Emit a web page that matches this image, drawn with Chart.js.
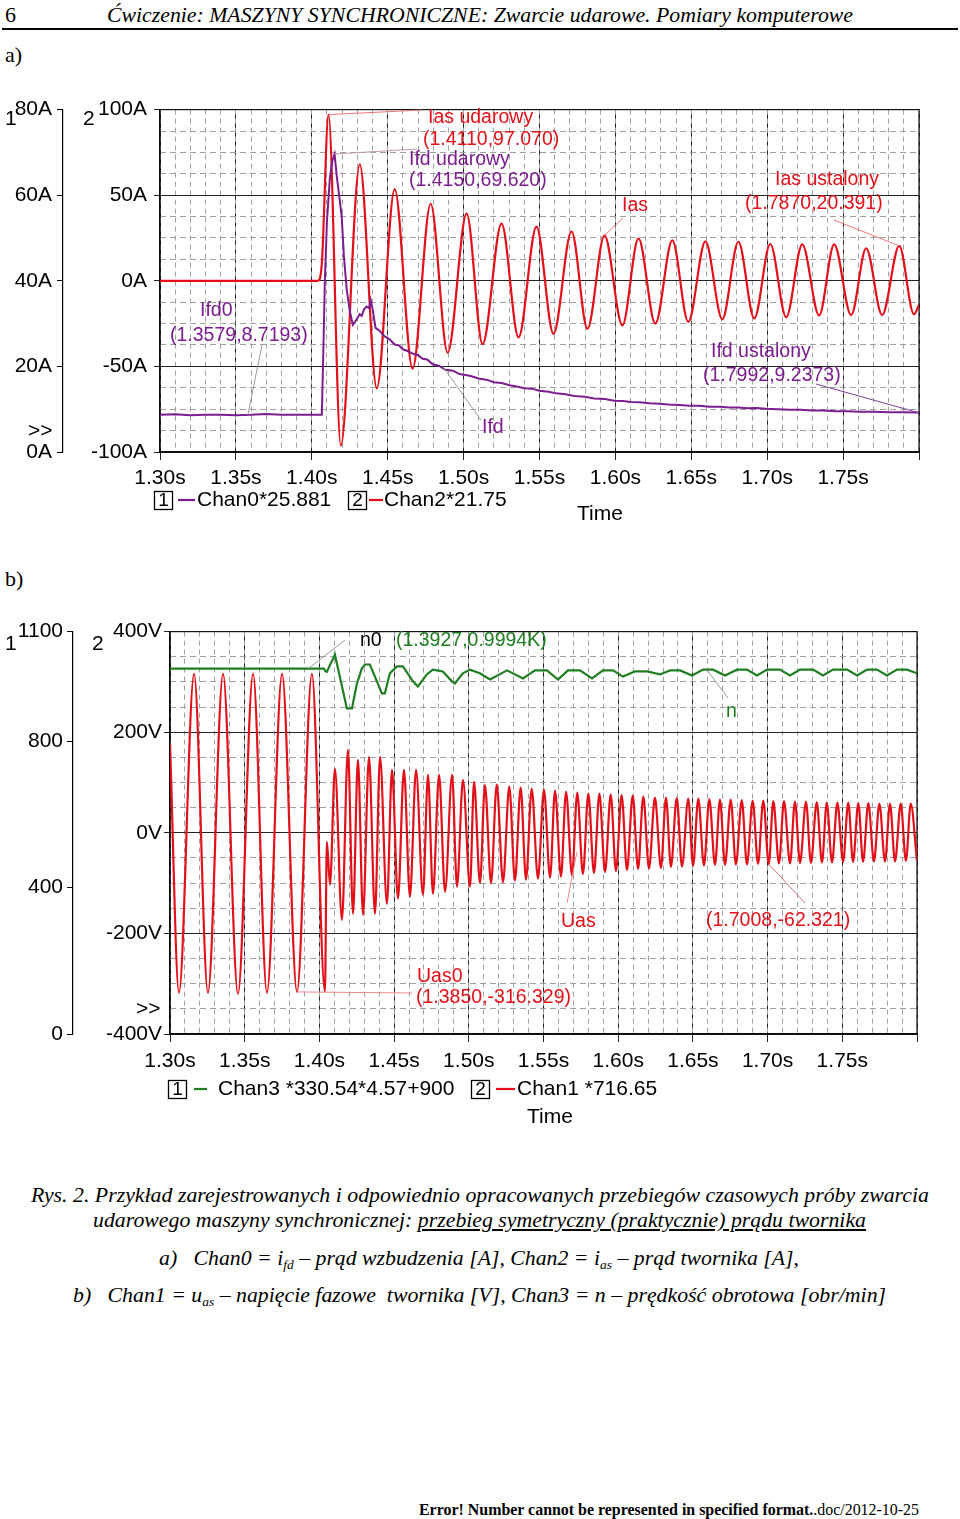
<!DOCTYPE html>
<html><head><meta charset="utf-8">
<script src="https://cdn.jsdelivr.net/npm/chart.js@4.4.0/dist/chart.umd.min.js"></script>
<style>
html,body{margin:0;padding:0;background:#fff;}
body{width:960px;height:1519px;position:relative;overflow:hidden;font-family:"Liberation Serif","Times New Roman",serif;color:#000;}
.t{position:absolute;white-space:nowrap;line-height:1;transform-origin:0 0;}
.i{font-style:italic;}
sub{font-size:0.62em;vertical-align:-0.3em;line-height:0;}
canvas{position:absolute;left:0;}
</style></head><body>
<div class="t" style="left:5px;top:4px;font-size:22px">6</div>
<div class="t i fit" data-w="746" style="left:107px;top:4px;font-size:22px">Ćwiczenie: MASZYNY SYNCHRONICZNE: Zwarcie udarowe. Pomiary komputerowe</div>
<div style="position:absolute;left:2px;top:28px;width:956px;height:2px;background:#000"></div>
<div class="t" style="left:5px;top:44px;font-size:22px">a)</div>
<div class="t" style="left:5px;top:568px;font-size:22px">b)</div>
<canvas id="ca" width="960" height="450" style="top:90px;width:960px;height:450px"></canvas>
<canvas id="cb" width="960" height="525" style="top:615px;width:960px;height:525px"></canvas>
<div class="t i fit" data-w="898" style="left:31px;top:1185px;font-size:21px">Rys. 2. Przykład zarejestrowanych i odpowiednio opracowanych przebiegów czasowych próby zwarcia</div>
<div class="t i fit" data-w="773" style="left:93px;top:1210px;font-size:21px">udarowego maszyny synchronicznej: <u>przebieg symetryczny (praktycznie) prądu twornika</u></div>
<div class="t i fit" data-w="640" style="left:159px;top:1248px;font-size:21px">a)&nbsp;&nbsp; Chan0 = i<sub>fd</sub> – prąd wzbudzenia [A], Chan2 = i<sub>as</sub> – prąd twornika [A],</div>
<div class="t i fit" data-w="813" style="left:73px;top:1285px;font-size:21px">b)&nbsp;&nbsp; Chan1 = u<sub>as</sub> – napięcie fazowe&nbsp; twornika [V], Chan3 = n – prędkość obrotowa [obr/min]</div>
<div class="t fit" data-w="500" style="left:419px;top:1502px;font-size:16px"><b>Error! Number cannot be represented in specified format.</b>.doc/2012-10-25</div>
<script>
// ---------------- DATA: chart a ----------------
const xTicks = [1.30, 1.35, 1.40, 1.45, 1.50, 1.55, 1.60, 1.65, 1.70, 1.75, 1.80];
const aInnerTicks = [-100, -50, 0, 50, 100];        // Chan2 axis [A]
const aOuterTicks = [0, 20, 40, 60, 80];            // Chan0 axis [A]
const aSeriesNames = ['Chan0*25.881', 'Chan2*21.75'];

// Ifd (Chan0*25.881), purple
const ifdT = [1.3000,1.3100,1.3200,1.3300,1.3400,1.3500,1.3600,1.3700,1.3800,1.3900,1.4000,1.4066,
  1.4075,1.4086,1.4100,1.4119,1.4135,1.4150,1.4165,1.4180,1.4197,1.4211,1.4230,1.4250,1.4270,
  1.4296,1.4315,1.4329,1.4345,1.4362,1.4378,1.4388,1.4400,1.4420,1.4450,1.4480,1.4510,1.4546,
  1.4575,1.4600,1.4630,1.4664,1.4700,1.4730,1.4760,1.4796,1.4840,1.4880,1.4930,1.4974,1.5040,
  1.5105,1.5150,1.5200,1.5250,1.5303,1.5350,1.5400,1.5450,1.5500,1.5560,1.5610,1.5670,1.5730,
  1.5800,1.5860,1.5930,1.5993,1.6050,1.6100,1.6160,1.6224,1.6290,1.6350,1.6420,1.6487,1.6550,
  1.6620,1.6690,1.6750,1.6810,1.6870,1.6930,1.6993,1.7070,1.7150,1.7220,1.7296,1.7370,1.7450,
  1.7530,1.7605,1.7700,1.7800,1.7900,1.7980,1.8000];
const ifdV = [8.72,8.8,8.6,8.7,8.7,8.6,8.7,8.9,8.7,8.7,8.7,8.7,
  22,40,54,64,68,69.62,64.3,60,55,46,38,33,29.7,
  31,32.2,31.8,33.4,34,33.6,35.5,33.5,29,28.2,27,26.4,25.1,
  24.9,24,23.6,23,22.6,21.8,21.6,20.5,20.1,19.2,19.0,18.2,17.8,
  17.1,16.9,16.3,16.1,15.6,15.3,14.9,14.8,14.3,14.1,13.7,13.5,13.1,
  12.9,12.5,12.4,12.0,11.9,11.7,11.6,11.4,11.3,11.1,11.0,10.8,10.8,
  10.6,10.6,10.4,10.4,10.2,10.3,10.1,10.0,9.9,9.9,9.7,9.7,9.5,
  9.5,9.4,9.4,9.3,9.3,9.24,9.2];

// Ias (Chan2*21.75), red
const iasT = [1.3000,1.4040,1.4066,1.4110,1.4191,1.4316,1.4428,1.4546,1.4664,1.4783,1.4895,1.5020,
  1.5125,1.5250,1.5362,1.5480,1.5592,1.5711,1.5816,1.5928,1.6046,1.6152,1.6263,1.6375,1.6480,
  1.6593,1.6704,1.6810,1.6915,1.7020,1.7125,1.7231,1.7342,1.7441,1.7553,1.7652,1.7757,1.7870,
  1.7967,1.8000];
const iasV = [0,0,10,97.07,-96.3,68,-62.8,53.6,-51.3,45,-42,39.2,
  -37,33.4,-33,31.7,-31,28.8,-28,26.5,-26,24.8,-25,23.6,-24,
  23,-22.5,22.8,-22,21.5,-21.3,21.3,-20.2,21.3,-20,19,-20,20.391,
  -19.6,-14];

// ---------------- DATA: chart b ----------------
const bInnerTicks = [-400, -200, 0, 200, 400];      // Chan1 axis [V]
const bOuterTicks = [0, 400, 800, 1100];            // Chan3 axis [obr/min]
const bSeriesNames = ['Chan3 *330.54*4.57+900', 'Chan1 *716.65'];

// n (Chan3), green
const nT = [1.3000,1.4030,1.4040,1.4050,1.4104,1.4184,1.4218,1.4251,1.4284,1.4305,1.4338,1.4385,
  1.4418,1.4438,1.4472,1.4519,1.4559,1.4626,1.4659,1.4719,1.4759,1.4826,1.4887,1.4907,1.4960,
  1.5007,1.5074,1.5142,1.5256,1.5363,1.5443,1.5523,1.5597,1.5664,1.5744,1.5825,1.5898,1.5965,
  1.6032,1.6112,1.6193,1.6280,1.6347,1.6414,1.6494,1.6568,1.6635,1.6715,1.6795,1.6862,1.6929,
  1.6996,1.7083,1.7150,1.7217,1.7304,1.7371,1.7438,1.7532,1.7599,1.7666,1.7732,1.7799,1.7866,
  1.7933,1.8000];
const nV = [999,999,992,990,1037,890,890,958,999,1010,1010,964,
  931,931,986,1005,1005,964,950,983,996,991,964,958,986,
  996,986,969,994,972,994,994,969,994,994,972,994,994,
  977,991,991,983,994,994,980,996,996,980,996,996,980,
  996,996,980,996,996,980,996,996,980,996,996,980,996,
  996,986];

// Uas (Chan1 *716.65), red
const uasT = [1.3000,1.3060,1.3161,1.3254,1.3355,1.3455,1.3556,1.3649,1.3750,1.3850,1.3950,1.4037,
  1.4050,1.4071,1.4104,1.4151,1.4191,1.4225,1.4258,1.4292,1.4332,1.4372,1.4406,1.4452,
  1.4486,1.4526,1.4566,1.4606,1.4647,1.4693,1.4727,1.4760,1.4801,1.4841,1.4888,1.4921,
  1.4961,1.5008,1.5035,1.5075,1.5108,1.5149,1.5187,1.5229,1.5271,1.5309,1.5347,1.5383,
  1.5421,1.5463,1.5503,1.5544,1.5577,1.5617,1.5651,1.5691,1.5726,1.5764,1.5800,1.5838,
  1.5874,1.5912,1.5950,1.5985,1.6023,1.6059,1.6097,1.6133,1.6168,1.6206,1.6246,1.6286,
  1.6320,1.6353,1.6392,1.6427,1.6469,1.6501,1.6536,1.6574,1.6610,1.6648,1.6681,1.6715,
  1.6753,1.6788,1.6827,1.6862,1.6900,1.6936,1.6971,1.7008,1.7038,1.7076,1.7110,1.7150,
  1.7183,1.7217,1.7257,1.7290,1.7329,1.7364,1.7396,1.7431,1.7467,1.7505,1.7540,1.7572,
  1.7607,1.7639,1.7674,1.7712,1.7748,1.7786,1.7819,1.7853,1.7891,1.7926,1.7958,1.8000];
const uasV = [177,-318,316,-318,316,-320,316,-318,316,-316.329,316,-316,
  -18,-103,127,-173,165,-161,145,-163,151,-161,151,-141,
  125,-131,125,-127,125,-123,115,-121,115,-117,115,-107,
  105,-107,101,-100,95,-100,96,-98,92,-95,90,-93,
  88,-91,86,-89,84,-87,82,-85,80,-82,78,-80,
  78,-78,76,-76,75,-74,74,-72,72,-71,70,-70,
  70,-68,69,-67,68,-66,68,-65,67,-64,66,-64,
  66,-63,65,-63,64,-62,64,-62.321,63,-61,63,-61,
  62,-60,62,-60,61,-59,60,-59,60,-58,60,-58,
  59,-58,59,-57,58,-57,58,-57,58,-56,58,-56];

// ---------------- STYLE ----------------
const FONT = '"Liberation Sans", Arial, Helvetica, sans-serif';
const RED = '#e3101a', PURPLE = '#7b1d8e', GREEN = '#1f7d22';
const MAJOR = '#222', MINOR = '#a0a0a0';

function pts(T, V) { return T.map((t, i) => ({ x: t, y: V[i] })); }
function fixTicks(arr) { return s => { s.ticks = arr.map(v => ({ value: v })); }; }

function buildScales(o) {
  const tickFont = { family: FONT, size: 21 };
  return {
    x: {
      type: 'linear', position: 'bottom', weight: 5, min: 1.30, max: 1.80,
      afterBuildTicks: fixTicks(xTicks),
      ticks: { callback: v => (v > 1.799 ? '' : v.toFixed(2) + 's'), font: tickFont, color: '#000', padding: o.xPad, maxRotation: 0, autoSkip: false },
      grid: { color: MAJOR, lineWidth: 1, tickLength: 8 },
      border: { display: true, color: '#000', width: 1.2 },
      afterFit: s => { s.height = o.xH; }
    },
    xm: {
      type: 'linear', position: 'bottom', weight: 0, min: 1.30, max: 1.80, z: -1,
      ticks: { display: false, stepSize: 0.01 },
      grid: { color: MINOR, lineWidth: 1, drawTicks: false },
      border: { display: false, dash: [5, 4] },
      afterFit: s => { s.height = 0; }
    },
    ym: {
      type: 'linear', position: 'left', weight: 0, min: o.inMin, max: o.inMax, z: -1,
      ticks: { display: false, stepSize: o.minorStep },
      grid: { color: MINOR, lineWidth: 1, drawTicks: false },
      border: { display: false, dash: [6, 4] },
      afterFit: s => { s.width = 0; }
    },
    y: {
      type: 'linear', position: 'left', weight: 5, min: o.inMin, max: o.inMax,
      afterBuildTicks: fixTicks(o.inTicks),
      ticks: { callback: v => v + o.inUnit, font: tickFont, color: '#000', padding: o.inPad },
      grid: { color: MAJOR, lineWidth: 1, tickLength: 6 },
      border: { display: true, color: '#000', width: 1.2 },
      afterFit: s => { s.width = o.inW; }
    },
    y1: {
      type: 'linear', position: 'left', weight: 10, min: o.outMin, max: o.outMax,
      afterBuildTicks: fixTicks(o.outTicks),
      ticks: { callback: v => v + o.outUnit, font: tickFont, color: '#000', padding: o.outPad },
      grid: { drawOnChartArea: false, color: '#000', lineWidth: 1, tickLength: 6 },
      border: { display: true, color: '#000', width: 1.2 },
      afterFit: s => { s.width = o.outW; }
    }
  };
}

function overlayPlugin(spec) {
  return {
    id: 'overlay',
    beforeDatasetsDraw(chart) {
      const { ctx, chartArea: a } = chart;
      ctx.save(); ctx.strokeStyle = '#111'; ctx.lineWidth = 1.2;
      ctx.strokeRect(a.left, a.top, a.right - a.left, a.bottom - a.top);
      ctx.restore();
    },
    afterDraw(chart) {
      const ctx = chart.ctx, off = spec.top;
      const P = p => p.t !== undefined
        ? [chart.scales.x.getPixelForValue(p.t), chart.scales[p.ax].getPixelForValue(p.v)]
        : [p.x, p.y - off];
      ctx.save();
      spec.leaders.forEach(l => {
        const a = P(l.from), b = P(l.to);
        ctx.strokeStyle = l.color; ctx.lineWidth = 1;
        ctx.beginPath(); ctx.moveTo(a[0], a[1]); ctx.lineTo(b[0], b[1]); ctx.stroke();
      });
      ctx.textBaseline = 'middle';
      spec.texts.forEach(t => {
        ctx.font = (t.size || 19.5) + 'px ' + FONT;
        ctx.fillStyle = t.color || '#000';
        ctx.textAlign = t.align || 'left';
        ctx.fillText(t.s, t.x, t.y - off);
      });
      spec.boxes.forEach(b => {
        const y = b.y - off;
        ctx.strokeStyle = '#000'; ctx.lineWidth = 1.3;
        ctx.strokeRect(b.x + 0.5, y - 9 + 0.5, 18, 18);
        ctx.font = '19px ' + FONT; ctx.fillStyle = '#000'; ctx.textAlign = 'center';
        ctx.fillText(b.n, b.x + 9.5, y + 1);
        ctx.strokeStyle = b.color; ctx.lineWidth = 2.2;
        ctx.beginPath(); ctx.moveTo(b.lx1, y); ctx.lineTo(b.lx2, y); ctx.stroke();
        ctx.font = '21px ' + FONT; ctx.textAlign = 'left'; ctx.fillStyle = '#000';
        ctx.fillText(b.label, b.tx, y);
      });
      ctx.restore();
    }
  };
}

// area: desired plot rectangle in canvas coordinates
function makeChart(id, datasets, scaleOpts, area, spec) {
  const chart = new Chart(document.getElementById(id), {
    type: 'line',
    data: { datasets },
    options: {
      responsive: false, animation: false, devicePixelRatio: 1, events: [],
      layout: { padding: { top: area.top, right: 960 - area.right, left: 0, bottom: 0 } },
      plugins: { legend: { display: false }, tooltip: { enabled: false } },
      elements: { point: { radius: 0 } },
      scales: buildScales(scaleOpts)
    },
    plugins: [overlayPlugin(spec)]
  });
  // correct layout so the plot rectangle lands where the reference has it
  for (let k = 0; k < 2; k++) {
    const ca = chart.chartArea, pad = chart.options.layout.padding;
    const dTop = area.top - ca.top, dRight = ca.right - area.right, dBottom = ca.bottom - area.bottom;
    if (Math.abs(dTop) < 0.5 && Math.abs(dRight) < 0.5 && Math.abs(dBottom) < 0.5) break;
    pad.top += dTop; pad.right += dRight; scaleOpts.xH += dBottom;
    chart.update('none');
  }
  return chart;
}

// ---------------- chart a ----------------
makeChart('ca', [
  { label: aSeriesNames[0], data: pts(ifdT, ifdV), yAxisID: 'y1', xAxisID: 'x', borderColor: PURPLE, borderWidth: 2, tension: 0 },
  { label: aSeriesNames[1], data: pts(iasT, iasV), yAxisID: 'y', xAxisID: 'x', borderColor: RED, borderWidth: 2.2, cubicInterpolationMode: 'monotone' }
], { xH: 88, xPad: 6, inMin: -100, inMax: 100, inTicks: aInnerTicks, inUnit: 'A', minorStep: 12.5, inPad: 7, inW: 97,
     outMin: 0, outMax: 80, outTicks: aOuterTicks, outUnit: 'A', outPad: 5, outW: 63 },
{ top: 15, right: 919, bottom: 362 },
{
  top: 90,
  leaders: [
    { from: { t: 1.4110, v: 97.07, ax: 'y' }, to: { x: 422, y: 110 }, color: '#e77' },
    { from: { t: 1.4150, v: 69.62, ax: 'y1' }, to: { x: 417, y: 149 }, color: '#b9a' },
    { from: { t: 1.5928, v: 26.5, ax: 'y' }, to: { x: 623, y: 218 }, color: '#e77' },
    { from: { t: 1.7870, v: 20.391, ax: 'y' }, to: { x: 834, y: 220 }, color: '#e77' },
    { from: { t: 1.3579, v: 8.7193, ax: 'y1' }, to: { x: 262, y: 345 }, color: '#999' },
    { from: { t: 1.7992, v: 9.2373, ax: 'y1' }, to: { x: 816, y: 384 }, color: '#7b3f8e' },
    { from: { t: 1.4862, v: 20.0, ax: 'y1' }, to: { x: 481, y: 420 }, color: '#999' }
  ],
  texts: [
    { s: 'Ias udarowy', x: 428, y: 118, color: RED },
    { s: '(1.4110,97.070)', x: 423, y: 140, color: RED },
    { s: 'Ifd udarowy', x: 409, y: 160, color: PURPLE },
    { s: '(1.4150,69.620)', x: 409, y: 181, color: PURPLE },
    { s: 'Ias', x: 622, y: 206, color: RED },
    { s: 'Ias ustalony', x: 775, y: 180, color: RED },
    { s: '(1.7870,20.391)', x: 745, y: 204, color: RED },
    { s: 'Ifd0', x: 200, y: 311, color: PURPLE },
    { s: '(1.3579,8.7193)', x: 170, y: 336, color: PURPLE },
    { s: 'Ifd ustalony', x: 711, y: 352, color: PURPLE },
    { s: '(1.7992,9.2373)', x: 703, y: 376, color: PURPLE },
    { s: 'Ifd', x: 482, y: 428, color: PURPLE },
    { s: '1', x: 5, y: 119, size: 21 },
    { s: '2', x: 83, y: 119, size: 21 },
    { s: '>>', x: 28, y: 431, size: 21 },
    { s: 'Time', x: 600, y: 514, size: 21, align: 'center' }
  ],
  boxes: [
    { n: '1', x: 154, y: 500, color: PURPLE, lx1: 178, lx2: 195, tx: 197, label: aSeriesNames[0] },
    { n: '2', x: 348, y: 500, color: RED, lx1: 369, lx2: 383, tx: 384, label: aSeriesNames[1] }
  ]
});

// ---------------- chart b ----------------
makeChart('cb', [
  { label: bSeriesNames[0], data: pts(nT, nV), yAxisID: 'y1', xAxisID: 'x', borderColor: GREEN, borderWidth: 2.2, tension: 0 },
  { label: bSeriesNames[1], data: pts(uasT, uasV), yAxisID: 'y', xAxisID: 'x', borderColor: RED, borderWidth: 2.2, cubicInterpolationMode: 'monotone' }
], { xH: 106, xPad: 7, inMin: -400, inMax: 400, inTicks: bInnerTicks, inUnit: 'V', minorStep: 50, inPad: 2, inW: 97,
     outMin: 0, outMax: 1100, outTicks: bOuterTicks, outUnit: '', outPad: 4, outW: 73 },
{ top: 15, right: 917, bottom: 419 },
{
  top: 615,
  leaders: [
    { from: { t: 1.3927, v: 999.4, ax: 'y1' }, to: { x: 345, y: 640 }, color: '#999' },
    { from: { t: 1.6594, v: 995, ax: 'y1' }, to: { x: 728, y: 698 }, color: '#999' },
    { from: { t: 1.5724, v: -38, ax: 'y' }, to: { x: 567, y: 903 }, color: '#e88' },
    { from: { t: 1.7008, v: -62.321, ax: 'y' }, to: { x: 805, y: 903 }, color: '#c77' },
    { from: { t: 1.3850, v: -316.329, ax: 'y' }, to: { x: 412, y: 993 }, color: '#e88' }
  ],
  texts: [
    { s: 'n0', x: 360, y: 641, color: '#000' },
    { s: '(1.3927,0.9994K)', x: 396, y: 641, color: GREEN },
    { s: 'n', x: 726, y: 712, color: GREEN },
    { s: 'Uas', x: 561, y: 922, color: RED },
    { s: '(1.7008,-62.321)', x: 706, y: 921, color: RED },
    { s: 'Uas0', x: 417, y: 977, color: RED },
    { s: '(1.3850,-316.329)', x: 416, y: 998, color: RED },
    { s: '1', x: 5, y: 644, size: 21 },
    { s: '2', x: 92, y: 644, size: 21 },
    { s: '>>', x: 136, y: 1009, size: 21 },
    { s: 'Time', x: 550, y: 1117, size: 21, align: 'center' }
  ],
  boxes: [
    { n: '1', x: 168, y: 1089, color: GREEN, lx1: 194, lx2: 207, tx: 218, label: bSeriesNames[0] },
    { n: '2', x: 471, y: 1089, color: RED, lx1: 496, lx2: 515, tx: 517, label: bSeriesNames[1] }
  ]
});

// fit page texts to their measured widths
document.querySelectorAll('.fit').forEach(el => {
  const w = el.getBoundingClientRect().width;
  const tw = +el.dataset.w;
  if (w > 0) el.style.transform = 'scaleX(' + (tw / w).toFixed(4) + ')';
});
</script>
</body></html>
